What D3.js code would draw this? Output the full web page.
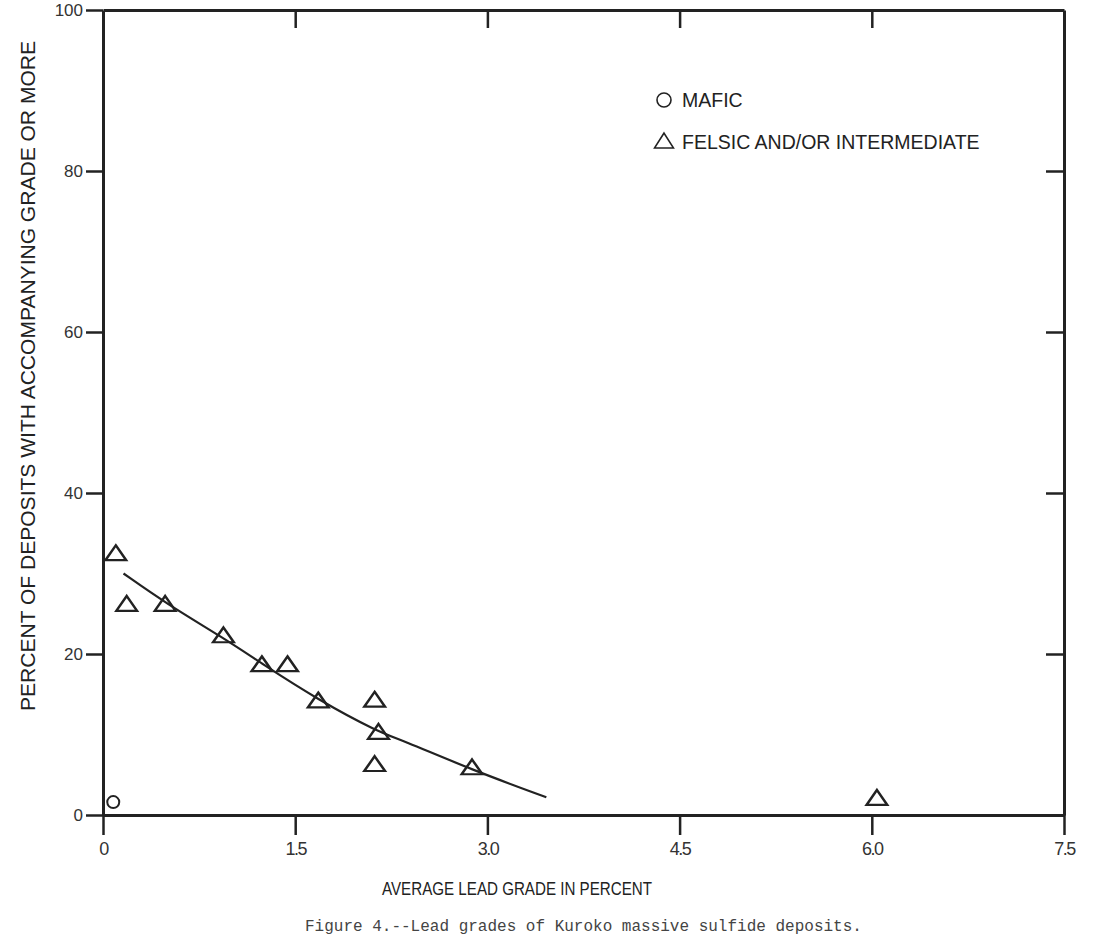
<!DOCTYPE html>
<html>
<head>
<meta charset="utf-8">
<script src="https://cdn.jsdelivr.net/npm/d3@7"></script>
<style>
body{margin:0;background:#fff;}
svg text{font-family:"Liberation Sans",Arial,sans-serif;fill:#222;}
</style>
</head>
<body>
<svg width="1109" height="937"></svg>
<script>
// values
let mafic=[{x:0.08,y:1.6}]
let felsic=[
 {x:0.10,y:32.4},{x:0.185,y:26.1},{x:0.485,y:26.1},{x:0.94,y:22.2},
 {x:1.24,y:18.6},{x:1.44,y:18.6},{x:1.68,y:14.1},{x:2.12,y:14.2},
 {x:2.15,y:10.2},{x:2.12,y:6.2},{x:2.88,y:5.8},{x:6.04,y:2.0}
]
let fitX=[0.16,0.49,0.94,1.24,1.68,2.15,2.32,2.88,3.46]
let fitY=[30.0,26.3,22.0,18.8,14.3,10.3,9.4,5.6,2.2]
let xTicks=[0,1.5,3.0,4.5,6.0,7.5]
let xTickLabels=['0','1.5','3.0','4.5','6.0','7.5']
let yTicks=[0,20,40,60,80,100]
let legendLabels=['MAFIC','FELSIC AND/OR INTERMEDIATE']
let xTitle='AVERAGE LEAD GRADE IN PERCENT'
let yTitle='PERCENT OF DEPOSITS WITH ACCOMPANYING GRADE OR MORE'
let caption='Figure 4.--Lead grades of Kuroko massive sulfide deposits.'

let svg=d3.select('svg')
let padLeft=103, padRight=1064, padTop=10, padBottom=815
let ink='#222'

let xScale=d3.scaleLinear().domain([0,7.5]).range([padLeft,padRight])
let yScale=d3.scaleLinear().domain([0,100]).range([padBottom,padTop])

// bottom axis, ticks outward
let xAxis=d3.axisBottom(xScale).tickValues(xTicks)
  .tickFormat((d,i)=>xTickLabels[i]).tickSize(20).tickSizeOuter(0).tickPadding(7)
let gx=svg.append('g').attr('transform','translate(0,'+padBottom+')').call(xAxis)
// left axis, ticks outward
let yAxis=d3.axisLeft(yScale).tickValues(yTicks).tickSize(17).tickSizeOuter(0).tickPadding(3)
let gy=svg.append('g').attr('transform','translate('+padLeft+',0)').call(yAxis)
// top and right: inward ticks only
let gt=svg.append('g').attr('transform','translate(0,'+padTop+')')
  .call(d3.axisBottom(xScale).tickValues(xTicks.slice(1,-1)).tickFormat('').tickSize(18).tickSizeOuter(0))
let gr=svg.append('g').attr('transform','translate('+padRight+',0)')
  .call(d3.axisLeft(yScale).tickValues(yTicks.slice(1,-1)).tickFormat('').tickSize(18).tickSizeOuter(0))

;[gx,gy,gt,gr].forEach(g=>{
  g.select('.domain').attr('stroke',ink).attr('stroke-width',3)
  g.selectAll('.tick line').attr('stroke',ink).attr('stroke-width',2.5)
  g.selectAll('text').style('fill','#333')
})
gx.selectAll('text').attr('font-size',18).style('letter-spacing','-1.5px')
gy.selectAll('text').attr('font-size',17)

// fitted curve
let fit=fitX.map((x,i)=>({x:x,y:fitY[i]}))
svg.append('path').datum(fit)
  .attr('fill','none').attr('stroke',ink).attr('stroke-width',2.2)
  .attr('d',d3.line().x(d=>xScale(d.x)).y(d=>yScale(d.y)).curve(d3.curveBasis))

let tri=d3.symbol().type(d3.symbolTriangle).size(140)
svg.selectAll('.felsic').data(felsic).enter().append('path')
  .attr('class','felsic')
  .attr('transform',d=>'translate('+xScale(d.x)+','+(yScale(d.y)+1)+') scale(1.15,0.95)')
  .attr('d',tri).attr('fill','none').attr('stroke',ink).attr('stroke-width',2.3)

svg.selectAll('.mafic').data(mafic).enter().append('circle')
  .attr('class','mafic')
  .attr('cx',d=>xScale(d.x)).attr('cy',d=>yScale(d.y)).attr('r',6)
  .attr('fill','none').attr('stroke',ink).attr('stroke-width',2)

// legend
let lg=svg.append('g')
lg.append('circle').attr('cx',664).attr('cy',100).attr('r',7)
  .attr('fill','none').attr('stroke',ink).attr('stroke-width',1.6)
lg.append('path').attr('d',tri).attr('transform','translate(664,143) scale(1.05,0.95)')
  .attr('fill','none').attr('stroke',ink).attr('stroke-width',1.6)
lg.selectAll('text').data(legendLabels).enter().append('text')
  .attr('x',682).attr('y',(d,i)=>107+i*42).attr('font-size',19.5).text(d=>d)

// titles
svg.append('text').attr('x',382).attr('y',895)
  .attr('font-size',18).attr('textLength',270).attr('lengthAdjust','spacingAndGlyphs').text(xTitle)
svg.append('text').attr('transform','translate(35,376) rotate(-90)').attr('text-anchor','middle')
  .attr('font-size',20).attr('textLength',670).attr('lengthAdjust','spacingAndGlyphs').text(yTitle)

// caption at the foot of the page
svg.append('text').attr('x',305).attr('y',931)
  .style('font-family','"Liberation Mono",monospace').style('fill','#444')
  .attr('font-size',16).text(caption)
</script>
</body>
</html>
